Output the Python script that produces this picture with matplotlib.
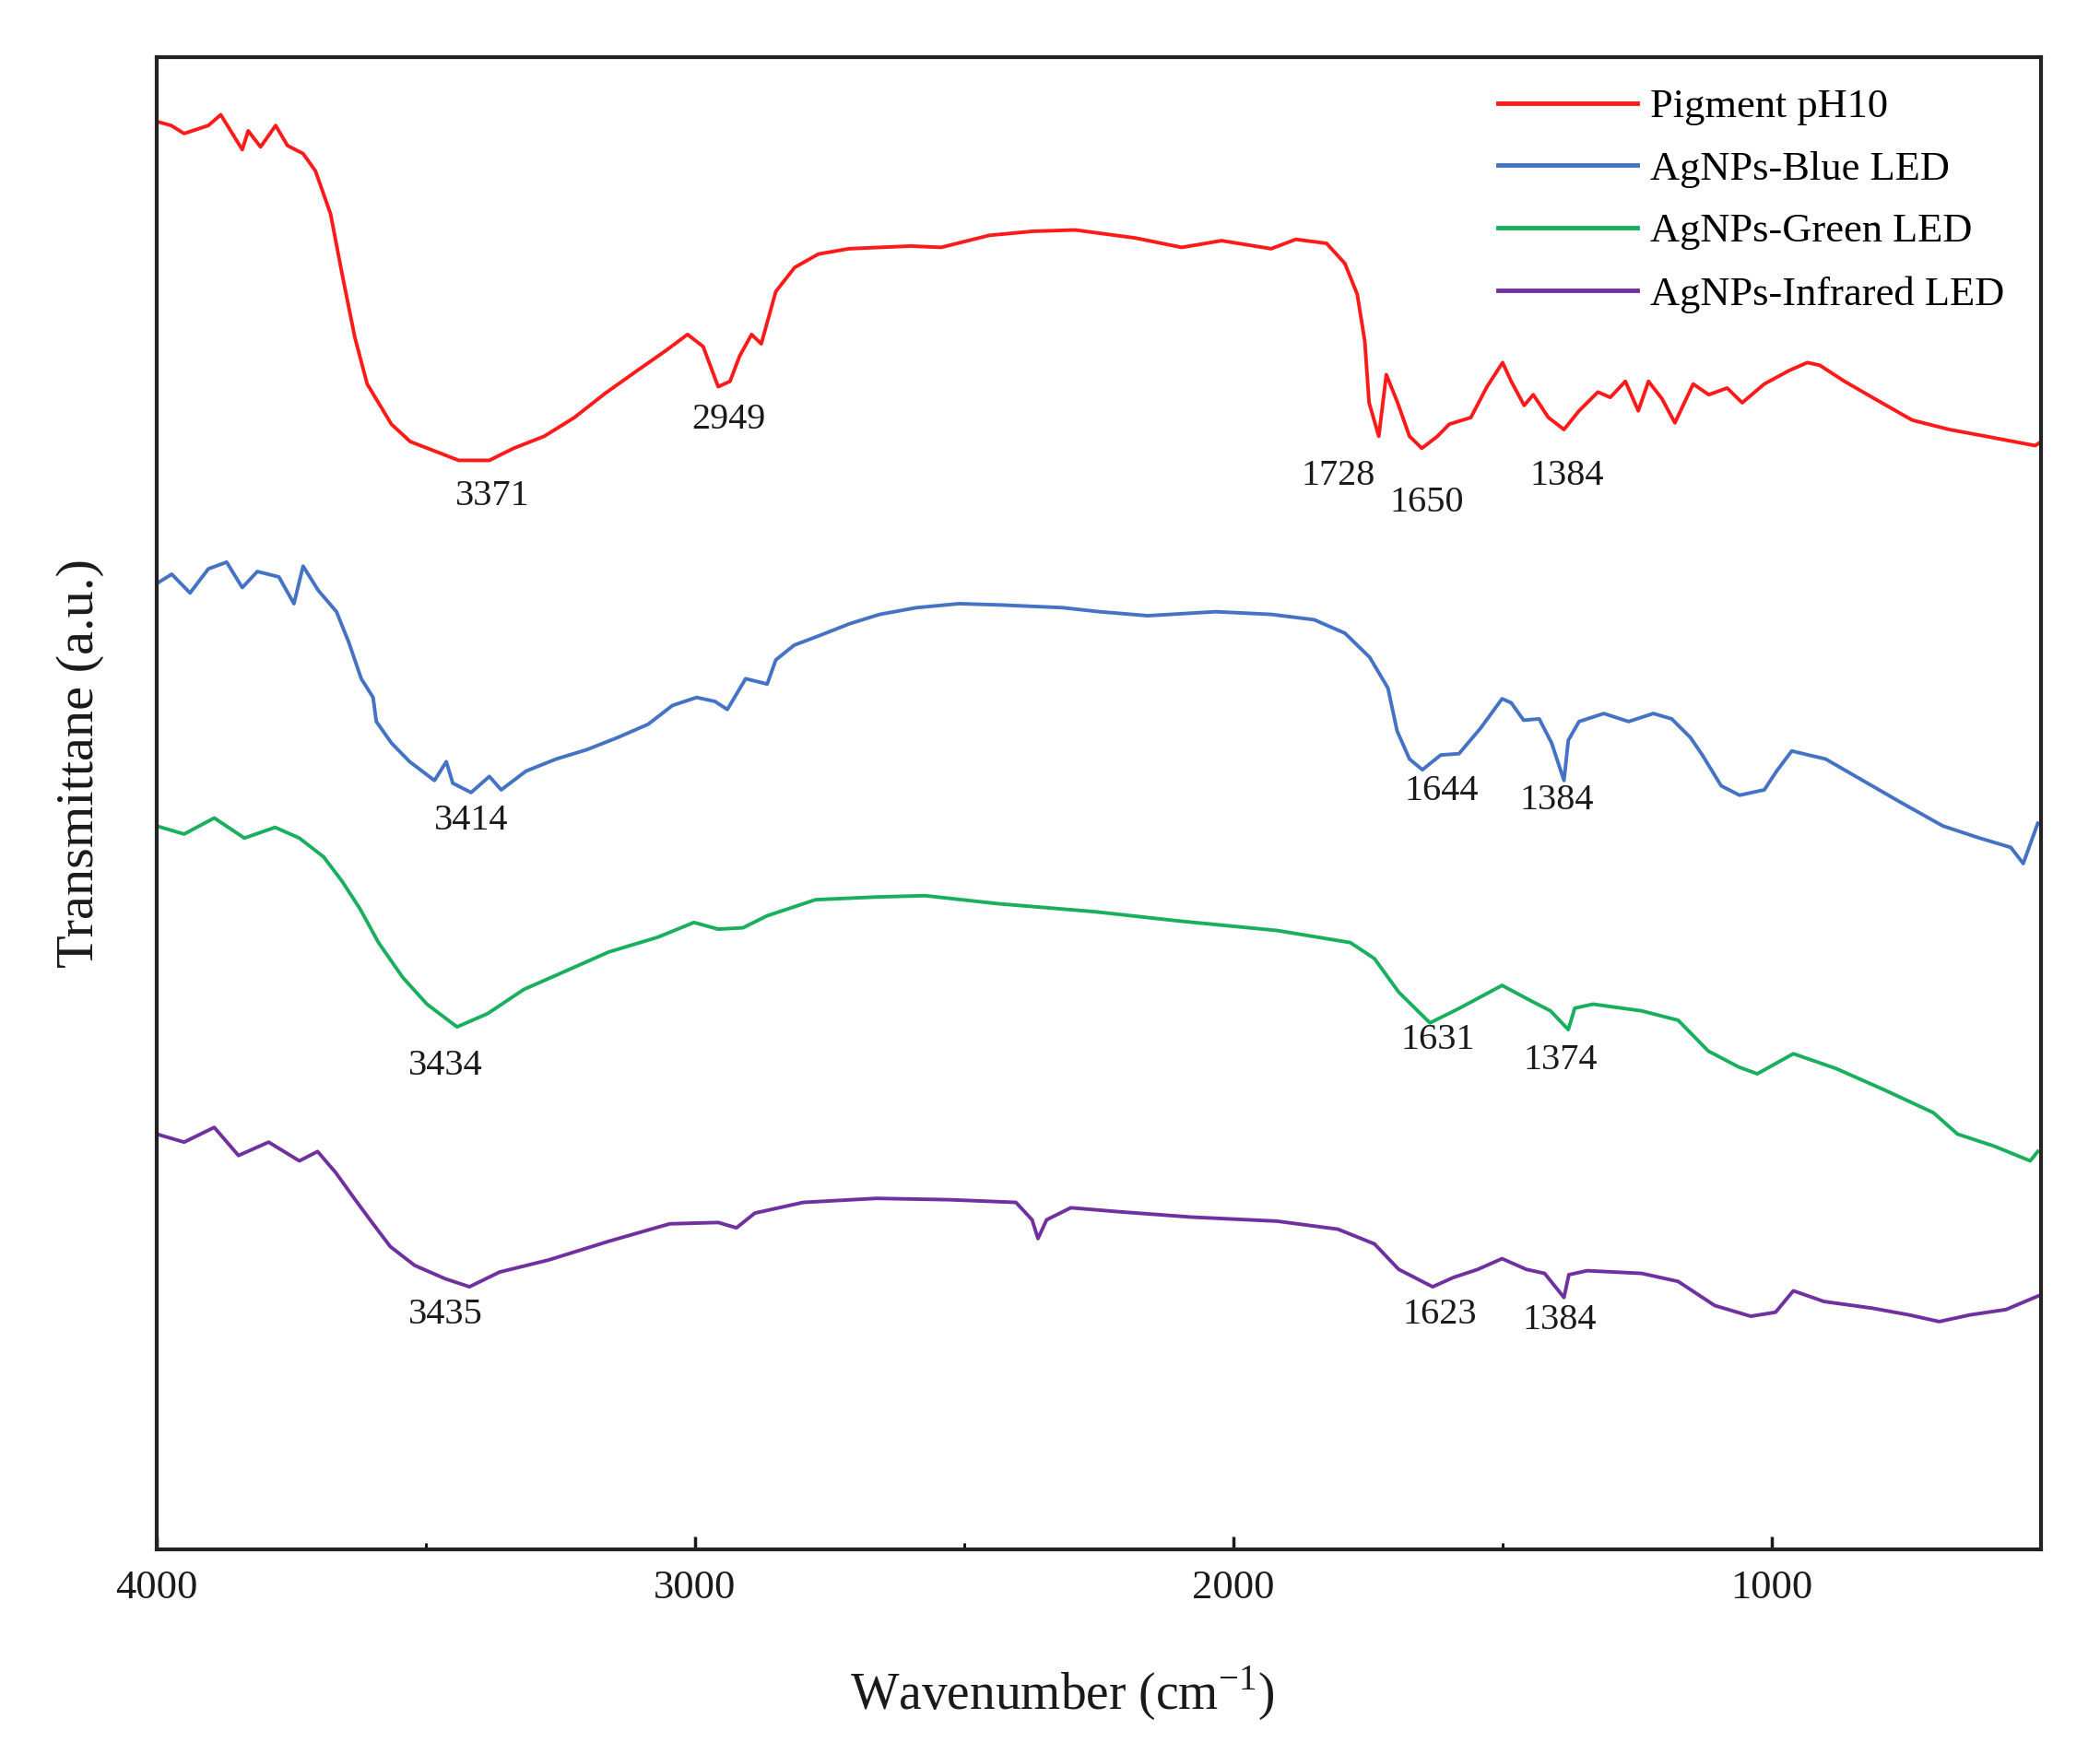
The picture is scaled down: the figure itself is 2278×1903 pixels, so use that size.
import matplotlib

matplotlib.use('Agg')
import matplotlib.pyplot as plt
from matplotlib.ticker import MultipleLocator

plt.rcParams['font.family'] = ['Liberation Serif', 'DejaVu Serif']
plt.rcParams['mathtext.fontset'] = 'custom'
plt.rcParams['mathtext.rm'] = 'Liberation Serif'

# FTIR spectra: (wavenumber cm-1, transmittance a.u.)
pigment_ph10 = [
    (4000, 1066), (3973, 1063), (3949, 1057), (3904, 1063), (3881, 1071), (3841, 1045),
    (3830, 1059), (3807, 1047), (3779, 1063), (3757, 1048), (3728, 1042), (3705, 1029),
    (3677, 997), (3655, 951), (3632, 905), (3609, 870), (3564, 840), (3529, 827),
    (3484, 820), (3439, 813), (3382, 813), (3337, 822), (3280, 831), (3224, 845),
    (3167, 863), (3111, 879), (3054, 895), (3014, 907), (2985, 898), (2957, 868),
    (2935, 872), (2917, 891), (2895, 907), (2877, 900), (2850, 939), (2815, 957),
    (2771, 967), (2714, 971), (2599, 973), (2543, 972), (2453, 981), (2373, 984),
    (2294, 985), (2182, 979), (2096, 972), (2022, 977), (1930, 971), (1884, 978),
    (1827, 975), (1793, 960), (1770, 937), (1756, 902), (1748, 856), (1730, 831),
    (1716, 877), (1695, 856), (1673, 831), (1650, 822), (1621, 831), (1599, 840),
    (1559, 845), (1529, 868), (1500, 886), (1484, 872), (1460, 854), (1443, 862),
    (1415, 845), (1386, 836), (1358, 850), (1323, 864), (1300, 860), (1272, 872),
    (1248, 850), (1229, 872), (1204, 859), (1180, 841), (1146, 870), (1117, 862),
    (1083, 867), (1055, 856), (1014, 870), (968, 880), (934, 886), (911, 884),
    (865, 872), (809, 859), (739, 843), (670, 836), (603, 831), (511, 824), (503, 826),
]
agnps_blue = [
    (4000, 721), (3972, 728), (3938, 714), (3904, 732), (3870, 737), (3841, 718),
    (3813, 730), (3773, 726), (3745, 706), (3728, 734), (3700, 716), (3666, 700),
    (3643, 677), (3620, 650), (3598, 636), (3592, 618), (3564, 602), (3530, 588),
    (3484, 574), (3462, 588), (3450, 572), (3416, 565), (3382, 577), (3360, 567),
    (3314, 581), (3258, 590), (3201, 597), (3144, 606), (3087, 616), (3042, 630),
    (2997, 636), (2963, 633), (2940, 627), (2906, 650), (2866, 646), (2850, 664),
    (2816, 675), (2770, 682), (2713, 691), (2657, 698), (2589, 703), (2509, 706),
    (2430, 705), (2317, 703), (2249, 700), (2159, 697), (2033, 700), (1930, 698),
    (1850, 694), (1793, 684), (1747, 666), (1713, 643), (1696, 611), (1673, 590),
    (1649, 582), (1615, 593), (1581, 594), (1541, 613), (1501, 635), (1484, 632),
    (1461, 619), (1432, 620), (1409, 602), (1386, 574), (1378, 604), (1358, 618),
    (1312, 624), (1266, 618), (1220, 624), (1186, 620), (1151, 606), (1129, 593),
    (1094, 570), (1060, 563), (1014, 567), (991, 581), (963, 596), (900, 590),
    (831, 574), (762, 558), (682, 540), (614, 531), (556, 524), (533, 512), (506, 542),
]
agnps_green = [
    (4000, 540), (3949, 534), (3893, 546), (3837, 531), (3780, 539), (3735, 531),
    (3690, 517), (3656, 499), (3622, 478), (3588, 453), (3543, 427), (3498, 407),
    (3442, 390), (3385, 400), (3318, 418), (3250, 430), (3160, 446), (3069, 457),
    (3002, 468), (2957, 463), (2911, 464), (2866, 473), (2776, 485), (2663, 487),
    (2573, 488), (2437, 482), (2257, 476), (2099, 469), (1919, 462), (1783, 453),
    (1738, 441), (1693, 416), (1635, 393), (1580, 404), (1501, 421), (1445, 409),
    (1411, 402), (1378, 388), (1366, 404), (1332, 407), (1242, 402), (1174, 395),
    (1118, 372), (1061, 360), (1027, 355), (960, 370), (881, 359), (791, 343),
    (700, 326), (655, 310), (587, 301), (520, 290), (506, 297),
]
agnps_infrared = [
    (4000, 310), (3949, 304), (3893, 315), (3848, 294), (3792, 304), (3735, 290),
    (3701, 297), (3667, 281), (3633, 262), (3600, 244), (3566, 226), (3521, 212),
    (3464, 202), (3419, 196), (3363, 207), (3272, 216), (3160, 230), (3047, 243),
    (2957, 244), (2923, 240), (2889, 251), (2799, 259), (2663, 262), (2528, 261),
    (2404, 259), (2374, 246), (2363, 232), (2347, 246), (2302, 255), (2212, 252),
    (2077, 248), (1919, 245), (1806, 239), (1738, 228), (1693, 209), (1630, 196),
    (1591, 203), (1546, 209), (1501, 217), (1456, 209), (1422, 206), (1386, 188),
    (1377, 205), (1343, 208), (1242, 206), (1174, 200), (1106, 182), (1039, 174),
    (993, 177), (960, 193), (903, 185), (813, 180), (745, 175), (689, 170),
    (632, 175), (565, 179), (506, 189),
]

series_names = ['Pigment pH10', 'AgNPs-Blue LED', 'AgNPs-Green LED', 'AgNPs-Infrared LED']
series_data = [pigment_ph10, agnps_blue, agnps_green, agnps_infrared]
series_colors = ['#ff1a1a', '#4472c4', '#1aaf5d', '#7030a0']

# peak labels: (text, wavenumber, transmittance) of the label centre
peak_labels = [
    ('3371', 3377, 786), ('2949', 2937, 843), ('1728', 1805, 801), ('1650', 1641, 781),
    ('1384', 1380, 801),
    ('3414', 3416, 544), ('1644', 1613, 566), ('1384', 1400, 559),
    ('3434', 3464, 361), ('1631', 1621, 380), ('1374', 1392, 365),
    ('3435', 3464, 175), ('1623', 1616, 175), ('1384', 1395, 171),
]

fig = plt.figure(figsize=(22.78, 19.03), dpi=100)
ax = fig.add_axes([0.0746, 0.1167, 0.8973, 0.8507])

for name, data, color in zip(series_names, series_data, series_colors):
    wn, t = zip(*data)
    ax.plot(wn, t, color=color, lw=2.8, label=name)

for text, wn, t in peak_labels:
    ax.text(wn, t, text, ha='center', va='center', fontsize=29, color='#1a1a1a')

ax.set_xlim(4000, 500)
ax.set_ylim(0, 1114)
ax.xaxis.set_major_locator(MultipleLocator(1000))
ax.xaxis.set_minor_locator(MultipleLocator(500))
ax.set_yticks([])
ax.tick_params(axis='x', which='major', direction='in', length=10, width=2.5,
               labelsize=32, pad=16, colors='#1a1a1a')
ax.tick_params(axis='x', which='minor', direction='in', length=5, width=2)
for sp in ax.spines.values():
    sp.set_linewidth(3)
    sp.set_color('#222222')

fig.text(0.5057, 0.0342, r'Wavenumber (cm$^{\mathregular{-1}}$)', ha='center', va='center',
         fontsize=40, color='#1a1a1a')
fig.text(0.0382, 0.565, 'Transmittane (a.u.)', ha='center', va='center', rotation=90,
         fontsize=42, color='#1a1a1a')

leg = ax.legend(loc='upper left', bbox_to_anchor=(0.712, 0.979), frameon=False,
                fontsize=32, handlelength=3.4, handletextpad=0.3, labelspacing=0.62,
                borderaxespad=0, borderpad=0)
for line in leg.get_lines():
    line.set_linewidth(3.5)

fig.savefig('out.png', dpi=100)
